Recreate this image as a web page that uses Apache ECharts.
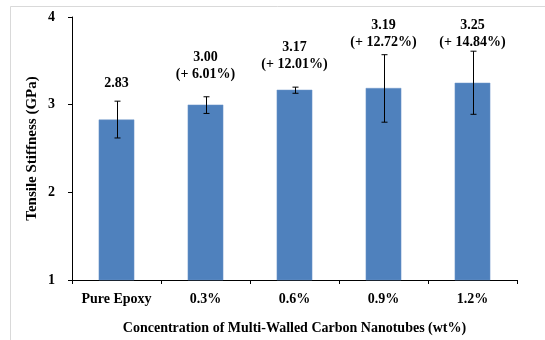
<!DOCTYPE html>
<html>
<head>
<meta charset="utf-8">
<script src="https://cdn.jsdelivr.net/npm/echarts@6/dist/echarts.min.js"></script>
<style>
html,body{margin:0;padding:0;background:#fff;}
#chart{width:545px;height:340px;}
</style>
</head>
<body>
<div id="chart"></div>
<script>
const categories = ['Pure Epoxy', '0.3%', '0.6%', '0.9%', '1.2%'];
const values = [2.83, 3.00, 3.17, 3.19, 3.25];
const errLow = [2.62, 2.90, 3.13, 2.80, 2.89];
const errHigh = [3.04, 3.09, 3.20, 3.57, 3.61];
const valueLabels = ['2.83', '3.00', '3.17', '3.19', '3.25'];
const pctLabels = ['', '(+ 6.01%)', '(+ 12.01%)', '(+ 12.72%)', '(+ 14.84%)'];
const yTicks = [1, 2, 3, 4];

const FONT = '"Liberation Serif", "Times New Roman", serif';
const chart = echarts.init(document.getElementById('chart'), null, {renderer: 'canvas'});

const option = {
  animation: false,
  backgroundColor: '#fff',
  graphic: [
    {type: 'line', shape: {x1: 10.5, y1: 6.5, x2: 545, y2: 6.5}, style: {stroke: '#d9d9d9', lineWidth: 1}},
    {type: 'line', shape: {x1: 10.5, y1: 6.5, x2: 10.5, y2: 340}, style: {stroke: '#d9d9d9', lineWidth: 1}}
  ],
  grid: {left: 72, top: 17, right: 28, bottom: 59},
  xAxis: {
    type: 'category',
    data: categories,
    name: 'Concentration of Multi-Walled Carbon Nanotubes (wt%)',
    nameLocation: 'middle',
    nameGap: 41,
    nameTextStyle: {fontFamily: FONT, fontWeight: 'bold', fontSize: 14, color: '#000'},
    axisLine: {lineStyle: {color: '#000', width: 1}},
    axisTick: {show: true, length: 4, lineStyle: {color: '#000'}},
    axisLabel: {fontFamily: FONT, fontWeight: 'bold', fontSize: 14, color: '#000', margin: 12, interval: 0}
  },
  yAxis: {
    type: 'value',
    min: 1, max: 4, interval: 1,
    name: 'Tensile Stiffness (GPa)',
    nameLocation: 'middle',
    nameGap: 32,
    nameTextStyle: {fontFamily: FONT, fontWeight: 'bold', fontSize: 15, color: '#000'},
    axisLine: {show: true, lineStyle: {color: '#000', width: 1}},
    axisTick: {show: true, length: 4, lineStyle: {color: '#000'}},
    splitLine: {show: false},
    axisLabel: {show: false}
  },
  series: [
    {
      type: 'bar',
      data: values,
      barWidth: '40%',
      itemStyle: {color: '#4F81BD', borderColor: '#6f97c9', borderWidth: 0.5},
      z: 2
    },
    {
      type: 'custom',
      z: 5,
      data: categories.map((c, i) => [i, errLow[i], errHigh[i]]),
      renderItem: function (params, api) {
        const i = api.value(0);
        const lo = api.coord([i, api.value(1)]);
        const hi = api.coord([i, api.value(2)]);
        const x = Math.round(lo[0]) + 0.5;
        const cap = 3;
        const s = {stroke: '#000', lineWidth: 1};
        return {
          type: 'group',
          children: [
            {type: 'line', shape: {x1: x, y1: hi[1], x2: x, y2: lo[1]}, style: s},
            {type: 'line', shape: {x1: x - cap, y1: hi[1], x2: x + cap, y2: hi[1]}, style: s},
            {type: 'line', shape: {x1: x - cap, y1: lo[1], x2: x + cap, y2: lo[1]}, style: s}
          ]
        };
      }
    },
    {
      type: 'custom',
      z: 6,
      data: categories.map((c, i) => [i, errHigh[i]]),
      renderItem: function (params, api) {
        const i = api.value(0);
        const top = api.coord([i, api.value(1)]);
        const ceil = api.coord([i, 4])[1] + 26;
        const twoLine = !!pctLabels[i];
        const lineY = Math.max(top[1] - (twoLine ? 22 : 17), ceil);
        const txt = twoLine ? valueLabels[i] + '\n' + pctLabels[i] : valueLabels[i];
        return {
          type: 'text',
          style: {
            x: top[0], y: lineY + 8,
            text: txt,
            font: 'bold 14px ' + FONT,
            fill: '#000',
            align: 'center',
            verticalAlign: 'bottom',
            lineHeight: 17
          }
        };
      }
    },
    {
      type: 'custom',
      z: 6,
      clip: false,
      data: yTicks.map(v => [0, v]),
      renderItem: function (params, api) {
        const p = api.coord([0, api.value(1)]);
        const axisX = p[0] - api.size([1, 0])[0] / 2;
        return {
          type: 'text',
          style: {
            x: axisX - 17, y: p[1],
            text: String(api.value(1)),
            font: 'bold 14px ' + FONT,
            fill: '#000',
            align: 'right',
            verticalAlign: 'middle'
          }
        };
      }
    }
  ]
};
chart.setOption(option);
</script>
</body>
</html>
